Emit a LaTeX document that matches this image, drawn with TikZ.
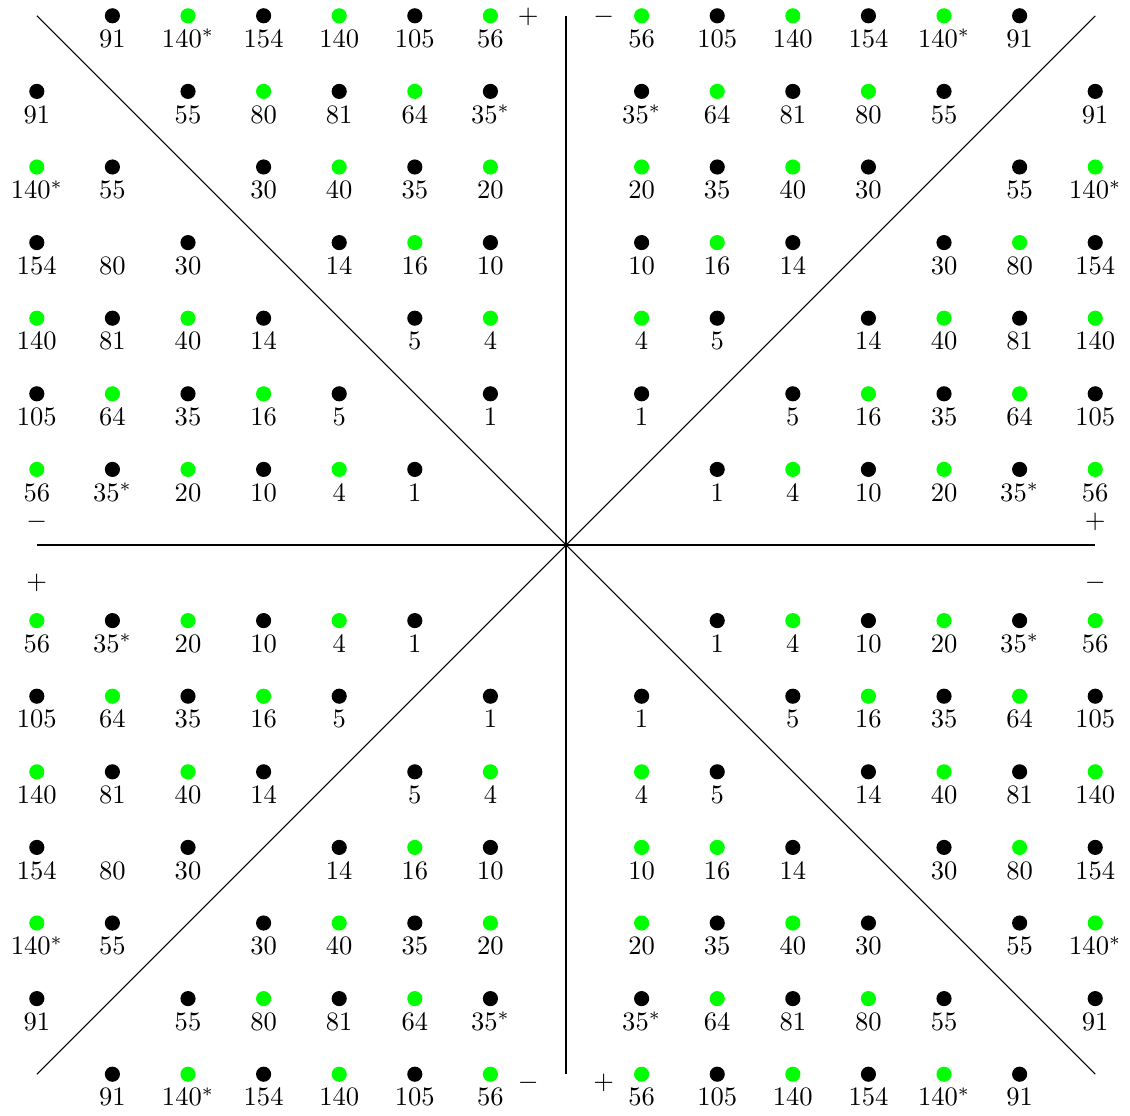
\documentclass[tikz,border=0pt]{standalone}
\usepackage{tikz}
\definecolor{ptgreen}{HTML}{00FF00}
\definecolor{ptblack}{HTML}{000000}

\begin{document}
\begin{tikzpicture}[
  dotg/.style={circle,fill=ptgreen,inner sep=0pt,minimum size=5.7pt},
  dotk/.style={circle,fill=ptblack,inner sep=0pt,minimum size=5.7pt},
  val/.style={below,yshift=-1.9pt,text height=6.5pt,text depth=0pt},
  sgn/.style={inner sep=0pt}]
\useasboundingbox (-7.487,-7.540) rectangle (7.460,7.209);
% axes and diagonals
\coordinate (nw) at (-7,7);
\coordinate (ne) at (7,7);
\coordinate (sw) at (-7,-7);
\coordinate (se) at (7,-7);
\coordinate (n) at (0,7);
\coordinate (s) at (0,-7);
\coordinate (w) at (-7,0);
\coordinate (e) at (7,0);
\draw (nw) -- (se);
\draw (ne) -- (sw);
\draw (n) -- (s);
\draw (w) -- (e);
% one quadrant, mirrored into all four (green where a+b is even)
\foreach \a/\b/\v in {1/2/1,1/3/4,1/4/10,1/5/20,1/6/35^*,1/7/56,
                      2/3/5,2/4/16,2/5/35,2/6/64,2/7/105,
                      3/4/14,3/5/40,3/6/81,3/7/140,
                      4/5/30,4/6/80,4/7/154,
                      5/6/55,5/7/140^*,
                      6/7/91}{
  \foreach \sx/\sy in {1/1,-1/1,1/-1,-1/-1}{
    \foreach \p/\q in {\a/\b,\b/\a}{
      \pgfmathtruncatemacro\x{\sx*\p}
      \pgfmathtruncatemacro\y{\sy*\q}
      \pgfmathtruncatemacro\kind{mod(\a+\b,2)}
      \ifnum\x=1 \ifnum\y=-4 \def\kind{0}\fi\fi
      \ifnum\x=-6 \ifnum\q=4 \def\kind{2}\fi\fi
      \ifcase\kind \node[dotg] (p\x_\y) at (\x,\y) {};
      \or \node[dotk] (p\x_\y) at (\x,\y) {};
      \fi
      \node[val] (t\x_\y) at (\x,\y) {$\v$};
    }
  }
}
% signs
\node[sgn] (tp) at (-0.5,6.98) {$+$};
\node[sgn] (tm) at (0.5,6.98) {$-$};
\node[sgn] (bm) at (-0.5,-7.11) {$-$};
\node[sgn] (bp) at (0.5,-7.11) {$+$};
\node[sgn] (lm) at (-7,0.30) {$-$};
\node[sgn] (lp) at (-7,-0.505) {$+$};
\node[sgn] (rp) at (7,0.30) {$+$};
\node[sgn] (rm) at (7,-0.505) {$-$};
\end{tikzpicture}
\end{document}
